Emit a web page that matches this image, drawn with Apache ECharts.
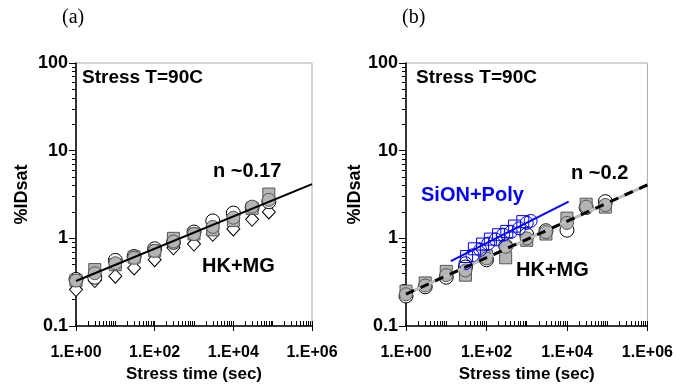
<!DOCTYPE html>
<html>
<head>
<meta charset="utf-8">
<script src="https://cdn.jsdelivr.net/npm/echarts@6/dist/echarts.min.js"></script>
<style>
 html,body{margin:0;padding:0;background:#fff;}
 #chart{width:676px;height:388px;}
</style>
</head>
<body>
<div id="chart"></div>
<script>
// panel (a) - HK+MG, stress T=90C
var timeA = [1, 3, 10, 30, 100, 300, 1000, 3000, 10000, 30000, 80000];
var sqA   = [0.33, 0.44, 0.50, 0.61, 0.72, 1.00, 1.12, 1.25, 1.60, 2.20, 3.20];
var gcA   = [0.33, 0.40, 0.52, 0.60, 0.72, 0.92, 1.12, 1.35, 1.72, 2.30, 2.75];
var ocA   = [0.34, 0.36, 0.56, 0.62, 0.76, 0.90, 1.18, 1.58, 1.94, 2.25, 2.62];
var dmA   = [0.26, 0.33, 0.37, 0.46, 0.57, 0.78, 0.86, 1.11, 1.28, 1.65, 2.00];
var fitA  = [[1, 0.326], [1000000, 4.15]];

// panel (b) - HK+MG vs SiON+Poly
var timeB = [1, 3, 10, 30, 100, 300, 1000, 3000, 10000, 30000, 90000];
var sqB   = [0.25, 0.31, 0.42, 0.38, 0.63, 0.60, 0.95, 1.12, 1.70, 2.45, 2.27];
var gcB   = [0.23, 0.29, 0.38, 0.43, 0.59, 0.80, 1.00, 1.18, 1.50, 2.30, 2.40];
var ocB   = [0.22, 0.28, 0.36, 0.47, 0.57, 0.82, 1.10, 1.22, 1.24, 2.25, 2.62];
var fitB  = [[1, 0.231], [1000000, 4.08]];

var timeBlueSq = [32, 50, 80, 125, 200, 320, 500, 800];
var blueSq     = [0.62, 0.76, 0.86, 0.98, 1.10, 1.20, 1.38, 1.55];
var timeBlueCi = [30, 45, 70, 110, 170, 260, 400, 650, 1000, 1250];
var blueCi     = [0.52, 0.64, 0.74, 0.87, 0.97, 1.10, 1.18, 1.30, 1.50, 1.58];
var fitBlue    = [[13, 0.55], [11000, 2.62]];

var xMajor = [1, 100, 10000, 1000000];
var yMajor = [0.1, 1, 10, 100];

// 1,2..9 in every decade, for the small tick marks
function decadeTicks(lo, hi){
  var out = [];
  for(var d=lo; d<hi; d++){
    for(var k=1;k<10;k++) out.push(k*Math.pow(10, d));
  }
  out.push(Math.pow(10, hi));
  return out;
}
var xMinor = decadeTicks(0, 6);
var yMinor = decadeTicks(-1, 2);

function pairs(xs, ys){
  var out = [];
  for(var i=0;i<xs.length;i++) out.push([xs[i], ys[i]]);
  return out;
}

var FONT = '"Liberation Sans", Arial, sans-serif';

function xLabel(v){
  var e = Math.round(Math.log(v)/Math.LN10);
  if(e % 2 != 0) return '';
  return '1.E+' + (e < 10 ? '0' : '') + e;
}
function yLabel(v){
  for(var i=0;i<yMajor.length;i++){
    if(Math.abs(v - yMajor[i]) < yMajor[i]*0.01) return String(yMajor[i]);
  }
  return '';
}

function makeX(idx){
  return {
    type: 'log', logBase: 10, gridIndex: idx, min: 1, max: 1000000, position: 'bottom',
    name: 'Stress time (sec)', nameLocation: 'middle', nameGap: 40,
    nameTextStyle: {fontFamily: FONT, fontWeight: 'bold', fontSize: 17, color: '#000'},
    axisLine: {show: true, onZero: false, lineStyle: {color: '#000', width: 1.5}},
    axisTick: {show: true, inside: false, length: 5, customValues: xMajor, lineStyle: {color: '#000'}},
    axisLabel: {formatter: xLabel, margin: 19, fontFamily: FONT, fontWeight: 'bold', fontSize: 16, color: '#000'},
    splitLine: {show: false}
  };
}
function makeXMinor(idx){
  return {
    type: 'log', logBase: 10, gridIndex: idx, min: 1, max: 1000000, position: 'bottom',
    axisLine: {show: false, onZero: false},
    axisTick: {show: true, inside: true, length: 5, customValues: xMinor, lineStyle: {color: '#000'}},
    axisLabel: {show: false},
    splitLine: {show: false}
  };
}
function makeY(idx, gap){
  return {
    type: 'log', logBase: 10, gridIndex: idx, min: 0.1, max: 100, position: 'left',
    name: '%IDsat', nameLocation: 'middle', nameGap: gap, nameRotate: 90,
    nameTextStyle: {fontFamily: FONT, fontWeight: 'bold', fontSize: 18, color: '#000'},
    axisLine: {show: true, onZero: false, lineStyle: {color: '#000', width: 1.5}},
    axisTick: {show: true, inside: false, length: 7, customValues: yMajor, lineStyle: {color: '#000'}},
    axisLabel: {formatter: yLabel, margin: 8, fontFamily: FONT, fontWeight: 'bold', fontSize: 18, color: '#000'},
    splitLine: {show: false}
  };
}
function makeYMinor(idx){
  return {
    type: 'log', logBase: 10, gridIndex: idx, min: 0.1, max: 100, position: 'left',
    axisLine: {show: false, onZero: false},
    axisTick: {show: true, inside: false, length: 4, customValues: yMinor, lineStyle: {color: '#000'}},
    axisLabel: {show: false},
    splitLine: {show: false}
  };
}

function scat(idx, data, symbol, size, fill, stroke, z){
  return {
    type: 'scatter', xAxisIndex: idx, yAxisIndex: idx, data: data,
    symbol: symbol, symbolSize: size, z: z,
    itemStyle: {color: fill, borderColor: stroke, borderWidth: 1, opacity: 1}
  };
}
function line(idx, data, color, width, type, z){
  return {
    type: 'line', xAxisIndex: idx, yAxisIndex: idx, data: data,
    symbol: 'none', z: z, silent: true,
    lineStyle: {color: color, width: width, type: type}
  };
}

function txt(left, top, text, size, color, family, weight){
  return {
    type: 'text', left: left, top: top, z: 100,
    style: {text: text, fill: color || '#000', fontSize: size,
      fontFamily: family || FONT, fontWeight: weight || 'bold'}
  };
}

var myChart = echarts.init(document.getElementById('chart'));

var option = {
  animation: false,
  backgroundColor: '#fff',
  grid: [
    {left: 76, top: 63, width: 236, height: 266, show: true, borderColor: '#aaa', borderWidth: 1},
    {left: 406, top: 63, width: 242, height: 266, show: true, borderColor: '#aaa', borderWidth: 1}
  ],
  xAxis: [makeX(0), makeX(1), makeXMinor(0), makeXMinor(1)],
  yAxis: [makeY(0, 45), makeY(1, 40), makeYMinor(0), makeYMinor(1)],
  graphic: [
    txt(62, 8, '(a)', 20, '#000', '"Liberation Serif", "Times New Roman", serif', 'normal'),
    txt(402, 8, '(b)', 20, '#000', '"Liberation Serif", "Times New Roman", serif', 'normal'),
    txt(82, 68, 'Stress T=90C', 19),
    txt(213, 161, 'n ~0.17', 20),
    txt(202, 256, 'HK+MG', 20),
    txt(416, 68, 'Stress T=90C', 19),
    txt(571, 163, 'n ~0.2', 20),
    txt(421, 185, 'SiON+Poly', 20, '#0000ff'),
    txt(516, 260, 'HK+MG', 20)
  ],
  series: [
    // (a)
    scat(0, pairs(timeA, dmA), 'diamond', [13, 14], '#fff', '#000', 2),
    scat(0, pairs(timeA, ocA), 'circle', 14, '#fff', '#000', 3),
    scat(0, pairs(timeA, sqA), 'rect', 12, '#b4b4b4', '#555', 4),
    scat(0, pairs(timeA, gcA), 'circle', 13, '#b4b4b4', '#555', 5),
    line(0, fitA, '#000', 2, 'solid', 10),
    // (b)
    scat(1, pairs(timeB, ocB), 'circle', 14, '#fff', '#000', 2),
    scat(1, pairs(timeB, sqB), 'rect', 12, '#b4b4b4', '#555', 3),
    scat(1, pairs(timeB, gcB), 'circle', 13, '#b4b4b4', '#555', 4),
    scat(1, pairs(timeBlueCi, blueCi), 'circle', 13, 'rgba(255,255,255,0)', '#0000ff', 6),
    scat(1, pairs(timeBlueSq, blueSq), 'rect', 12, 'rgba(255,255,255,0)', '#0000ff', 6),
    line(1, fitB, '#bbbbbb', 3, 'solid', 10),
    line(1, fitB, '#000', 3, [9, 7], 11),
    line(1, fitBlue, '#0000ff', 2, 'solid', 12)
  ]
};

myChart.setOption(option);
</script>
</body>
</html>
